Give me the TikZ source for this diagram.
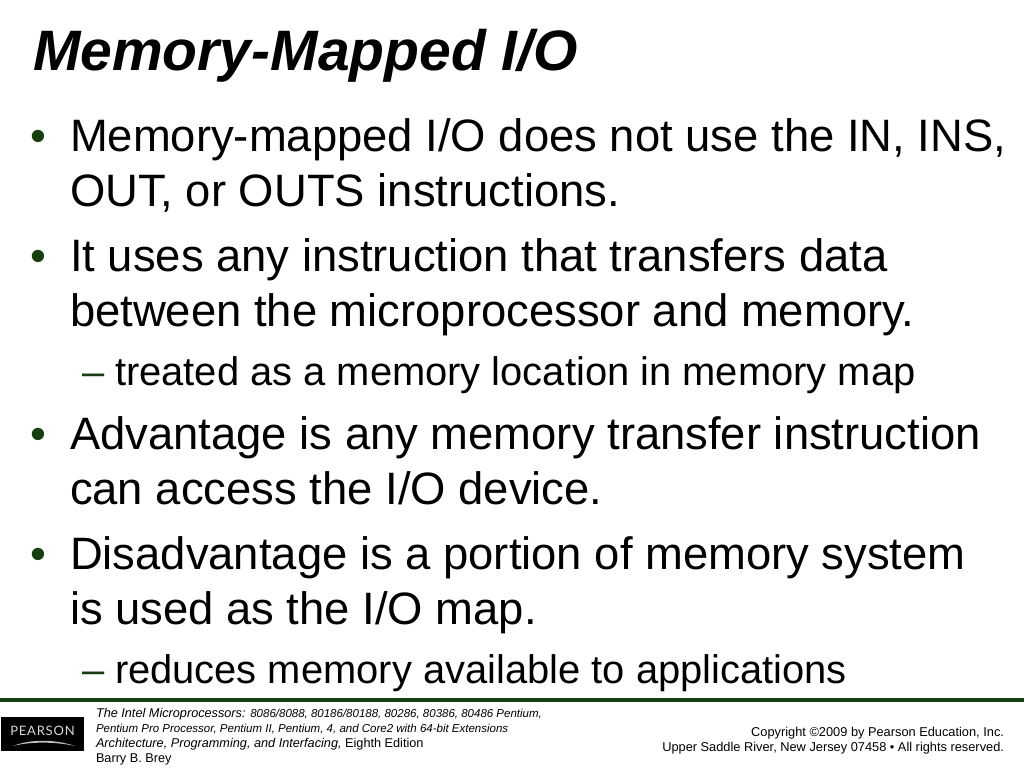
\documentclass[tikz,border=0pt]{standalone}
\usepackage{fontspec}
\setmainfont{Liberation Sans}
\newfontfamily\logofont[LetterSpace=6]{Lato}
\definecolor{pgreen}{RGB}{22,62,14}
\tikzset{
  lbl/.style={anchor=base west,inner sep=0pt,outer sep=0pt},
  big/.style={lbl,font=\fontsize{45.4}{45.4}\selectfont},
  sub/.style={lbl,font=\fontsize{39.9}{39.9}\selectfont},
  mark big/.style={big,text=pgreen},
  mark sub/.style={sub,text=pgreen},
  foot/.style={lbl,font=\fontsize{12.7}{12.7}\selectfont},
  footr/.style={anchor=base east,inner sep=0pt,outer sep=0pt,font=\fontsize{12.8}{12.8}\selectfont}
}
\begin{document}
\begin{tikzpicture}[x=1pt,y=-1pt]
\useasboundingbox (0,0) rectangle (1024,768);
\fill[white] (0,0) rectangle (1024,768);
\node[lbl,font=\fontsize{57}{57}\selectfont\bfseries\itshape] (title) at (33,70.5) {Memory-Mapped I/O};
\node[mark big] (b1) at (30,151.5) {•};
\node[big] (t1) at (70,151.5) {Memory-mapped I/O does not use the IN, INS,};
\node[big] (t1b) at (70,206.5) {OUT, or OUTS instructions.};
\node[mark big] (b2) at (30,271) {•};
\node[big] (t2) at (70,271) {It uses any instruction that transfers data};
\node[big] (t2b) at (70,326) {between the microprocessor and memory.};
\node[mark sub] (d1) at (82,385) {–};
\node[sub] (s1) at (115,385) {treated as a memory location in memory map};
\node[mark big] (b3) at (30,449.5) {•};
\node[big] (t3) at (70,449.5) {Advantage is any memory transfer instruction};
\node[big] (t3b) at (70,504.5) {can access the I/O device.};
\node[mark big] (b4) at (30,569) {•};
\node[big] (t4) at (70,569) {Disadvantage is a portion of memory system};
\node[big] (t4b) at (70,624) {is used as the I/O map.};
\node[mark sub] (d2) at (82,683) {–};
\node[sub] (s2) at (115,683) {reduces memory available to applications};
\fill[pgreen] (0,698) rectangle (1024,702);
\fill[black] (1,717) rectangle (84,751);
\node[font=\logofont\fontsize{13}{13}\selectfont,text=white!85!black,inner sep=0pt] (logo) at (42.5,731) {PEARSON};
\fill[white!75!black] (13,746) .. controls (30,739) and (55,739) .. (75,746) .. controls (55,741.5) and (30,741.5) .. (13,746) -- cycle;
\node[foot] (f1) at (96,717) {\itshape The Intel Microprocessors: \fontsize{11.5}{12}\selectfont 8086/8088, 80186/80188, 80286, 80386, 80486 Pentium,};
\node[foot,font=\fontsize{11.5}{12}\selectfont\itshape] (f2) at (96,732) {Pentium Pro Processor, Pentium II, Pentium, 4, and Core2 with 64-bit Extensions};
\node[foot] (f3) at (96,747) {\itshape Architecture, Programming, and Interfacing, \upshape Eighth Edition};
\node[foot] (f4) at (96,762) {Barry B. Brey};
\node[footr] (c1) at (1004,736) {Copyright ©2009 by Pearson Education, Inc.};
\node[footr] (c2) at (1004,751.5) {Upper Saddle River, New Jersey 07458 • All rights reserved.};
\end{tikzpicture}
\end{document}
